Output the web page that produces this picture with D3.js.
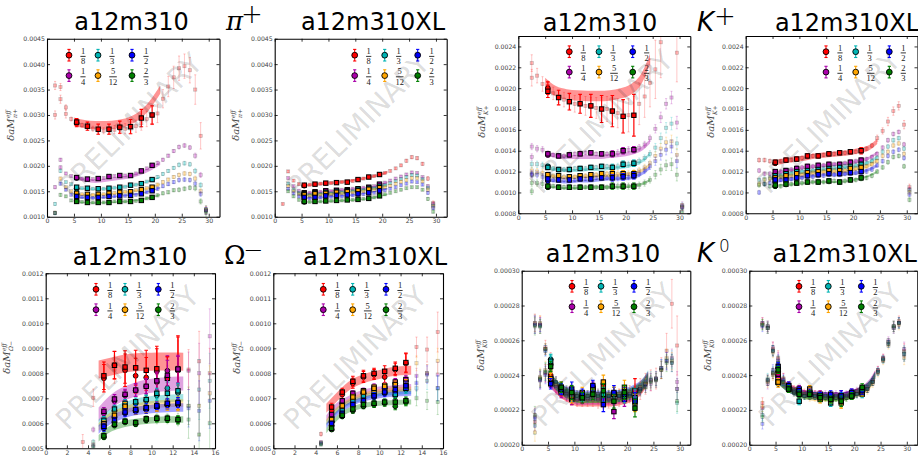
<!DOCTYPE html>
<html>
<head>
<meta charset="utf-8">
<script src="https://d3js.org/d3.v7.min.js"></script>
<style>
body { margin: 0; background: #fff; }
text { font-family: "DejaVu Sans", sans-serif; }
.tick text { font-size: 6.2px; fill: #444; }
.tick line { stroke: #000; stroke-width: 0.8; }
.domain { stroke: #000; stroke-width: 1.1; }
</style>
</head>
<body>
<div id="chart"></div>
<script>
// series order in every row list: 1/8, 1/4, 1/3, 5/12, 1/2, 2/3
var fractions = [["1", "8"], ["1", "4"], ["1", "3"], ["5", "12"], ["1", "2"], ["2", "3"]];
var colors = ["#ff0000", "#aa00aa", "#00b4b4", "#ffa500", "#0000ff", "#007f00"];

var stepsPi = d3.range(5.5, 20, 2);
var stepsK = d3.range(5.5, 22, 2);
var stepsO = d3.range(5.5, 13, 1);

// pi+ a12m310 (units 1e-5)
var piA_fade = [
  [358,355,315,292,285,280,277,273,270,269,270,271,272,273,276,278,284,292,298,303,332,356,374,392,396,388,350,259,113],
  [158,212,185,180,177,175,173,174,175,176,178,180,181,181,182,185,190,195,201,206,212,220,229,237,240,236,220,182,112],
  [125,190,168,164,158,156,155,155,155,155,156,157,158,159,161,163,165,169,173,178,184,190,196,202,205,203,190,162,115],
  [108,175,158,150,146,144,143,143,143,144,146,147,148,149,150,152,154,156,158,163,168,173,178,182,185,184,175,150,114],
  [107,165,153,143,140,139,137,137,138,139,140,140,140,141,142,143,145,148,151,155,160,164,168,172,173,172,165,145,112],
  [107,143,140,132,130,129,128,128,128,128,129,130,130,130,130,131,133,136,139,142,146,148,152,153,155,157,156,130,108]
];
var piA_fadeErr = [
  [8,7,5,4,4,4,4,5,5,6,7,8,9,10,11,12,14,15,17,18,18,20,22,24,24,25,29,26,8],
  [3,3,2,2,2,2,2,2,2,2,2,2,2,2,2,2,2,2,3,3,3,3,3,4,4,4,5,5,7]
];
var piA_fadeB = [[300,331,302],[null,197,null],[null,null,null],[null,null,null],[null,null,null],[null,null,null]];
var piA_solid = [
  [286,278,272,272,276,277,294,300],
  [177,174,175,179,181,181,190,201],
  [158,156,155,156,158,162,165,173],
  [146,144,144,146,148,149,153,158],
  [140,138,138,140,141,142,145,151],
  [130,128,128,128,130,130,132,138]
];
var piA_solidErr = [[7,8,10,10,12,14,17,18],[3,3,3,3,3,3,3,3]];
var piA_circ = [[284],[176],[155],[145],[139],[131]];
var piA_band = [
  [287,282,280,280,282,287,298,319,350],
  [178,172,170,172,175,178,184,193,205],
  [157,155,154,155,157,160,164,170,178],
  [145,143,143,144,146,149,152,157,164],
  [139,137,137,138,140,142,145,150,157],
  [129,128,127,128,129,130,133,137,143]
];

// pi+ a12m310XL
var piX_fade = [
  [125,189,171,164,162,163,164,165,166,166,167,168,168,170,173,175,178,180,183,186,190,195,201,210,217,215,204,175,127],
  [null,176,160,151,148,147,148,149,150,150,152,153,154,155,156,157,158,160,163,167,171,175,179,183,187,186,178,160,125],
  [null,165,153,147,144,143,144,145,146,146,147,148,149,151,152,153,154,156,159,162,166,170,174,178,182,181,174,157,122],
  [null,160,150,144,142,141,142,143,144,144,145,146,147,148,149,150,151,153,155,158,161,165,169,172,176,176,170,153,120],
  [null,155,146,140,138,136,137,138,139,139,140,140,141,142,142,144,145,147,149,152,155,158,162,165,169,168,163,147,117],
  [null,150,140,133,130,129,129,130,130,131,132,132,133,133,134,135,136,138,141,144,147,150,153,156,158,158,153,135,110]
];
var piX_fadeErr = [
  [2,2,2,2,2,2,2,2,2,2,2,2,2,2,2,2,2,2,2,2,2,2,2,3,3,3,3,4,4],
  [2,2,2,2,2,2,2,2,2,2,2,2,2,2,2,2,2,2,2,2,2,2,2,2,2,2,2,3,3]
];
var piX_solid = [
  [162,164,166,167,168,173,178,183],
  [147,149,151,152,153,155,158,164],
  [145,147,148,150,151,154,156,160],
  [143,145,146,148,149,151,154,157],
  [138,138,141,142,143,145,147,151],
  [130,130,131,132,133,134,136,141]
];
var piX_solidErr = [[3,3,3,3,3,3,3,3],[2,2,2,3,3,3,3,3]];
var piX_circ = [[161],[146],[144],[142],[137],[129]];
var piX_band = [
  [161,163,165,167,169,172,176,181,188],
  [146,147,149,151,153,155,157,161,168],
  [143,144,146,147,149,151,154,158,164],
  [141,142,144,145,147,149,152,155,161],
  [136,137,138,140,141,143,146,150,155],
  [129,129,130,131,132,133,135,139,144]
];

// K+ a12m310
var kA_fade = [
  [224,212,204,201,195,192,189,187,185,185,183,182,181,180,180,179,176,173,174,174,185,192,205,218,244,null,null,234,86],
  [144,142,141,138,136,135,135,136,137,138,138,138,137,137,137,137,138,140,141,141,143,146,152,161,172,185,191,167,88],
  [127,127,126,124,123,122,122,122,123,123,123,124,124,125,125,124,125,127,127,128,130,133,137,143,152,162,166,147,87],
  [121,120,119,117,116,115,115,115,115,116,116,117,117,118,118,118,118,118,118,119,121,124,128,135,142,148,149,136,86],
  [118,117,115,113,112,112,112,112,112,113,113,113,114,114,114,114,114,115,115,116,118,121,125,130,136,141,144,130,85],
  [109,109,108,106,106,105,105,105,105,105,105,105,105,105,105,106,106,106,106,106,107,109,112,117,122,126,127,117,81]
];
var kA_fadeErr = [
  [8,7,7,6,6,6,7,7,8,8,9,9,10,11,12,13,14,15,16,18,20,20,23,28,34,36,38,28,3],
  [3,3,3,2,2,2,2,2,2,2,2,2,2,2,2,3,3,3,3,3,3,3,3,4,5,5,6,6,3]
];
var kA_fadeB = [[210],[134],[null],[117],[117],[101]];
var kA_solid = [
  [197,191,187,185,183,180,178,173,174],
  [137,135,136,137,138,137,137,140,141],
  [124,122,122,123,124,125,124,127,128],
  [117,116,115,116,117,118,118,118,118],
  [113,112,112,113,113,114,114,115,116],
  [106,105,105,105,105,105,106,106,106]
];
var kA_solidErr = [[6,7,8,9,11,13,15,16,20],[2,2,2,2,2,2,3,3,3]];
var kA_circ = [[200],[136],[125],[115],[111],[105]];
var kA_band = [
  [205,197,194,193,192.5,192.5,193,195,199,210,228],
  [138,135,134,134,134,134,135,136,138,142,149],
  [124,122,121,121,122,122,123,124,126,130,137],
  [117,115,114,115,115,116,116,117,118,121,127],
  [112,111,110,111,111,112,113,113,114,118,124],
  [106,105,104,104,105,105,105,105,106,108,112]
];

// K+ a12m310XL
var kX_fade = [
  [131,131,130,129,130,131,131,132,133,134,135,135,136,137,137,138,138,139,139,140,142,145,152,159,168,178,183,165,105],
  [121,118,118,119,120,121,122,123,124,124,125,126,126,127,127,127,128,129,130,131,132,134,137,143,150,156,158,146,103],
  [112,113,114,115,116,117,118,119,120,121,121,122,123,123,124,124,125,125,126,127,128,130,133,139,144,150,152,142,102],
  [108,112,113,114,115,115,116,117,117,118,119,119,120,120,121,121,121,122,123,124,125,127,130,135,139,145,147,137,100],
  [100,108,109,111,112,112,113,114,114,115,115,116,116,117,117,117,118,118,119,119,120,122,126,130,135,139,141,133,98],
  [107,108,106,106,106,107,108,109,109,110,110,110,110,110,111,110,111,112,112,113,114,116,120,124,129,134,135,125,93]
];
var kX_fadeErr = [
  [2,2,2,2,2,2,2,2,2,2,2,2,2,2,2,2,2,2,2,2,2,2,3,3,4,4,4,4,3],
  [2,2,2,2,2,2,2,2,2,2,2,2,2,2,2,2,2,2,2,2,2,2,2,2,2,2,2,2,2]
];
var kX_solid = [
  [129,131,132,135,135,137,138,139,140],
  [120,121,123,125,126,127,127,129,131],
  [116,118,120,121,122,123,124,125,127],
  [114,116,118,119,120,121,121,123,124],
  [112,112,114,116,117,118,118,119,120],
  [107,108,109,110,110,111,110,112,114]
];
var kX_solidErr = [[2,2,2,2,2,2,2,2,3],[2,2,2,2,2,2,2,2,2]];
var kX_circ = [[128],[118],[115],[113],[110],[106]];
var kX_band = [
  [128,130,132,133,135,136,137,138,140,143,149],
  [118,120,122,124,125,126,127,128,130,133,138],
  [115,117,119,120,121,122,123,124,126,129,134],
  [113,115,116,118,119,120,120,121,123,126,131],
  [110,112,113,115,116,117,117,118,119,122,126],
  [106,107,108,109,110,110,110,111,113,116,120]
];

// Omega- a12m310 (units 1e-6)
var oA_fade = [
  [525,702,785,815,815,790,785,800,790,810,815,848,800],
  [null,575,640,690,710,730,745,770,810,815,810,800,948],
  [null,525,610,650,675,685,695,715,725,725,670,735,770],
  [null,515,590,625,660,650,660,668,675,680,670,670,720],
  [null,510,580,610,640,650,660,668,678,680,660,650,690],
  [null,505,548,592,605,600,615,618,618,615,615,555,600]
];
var oA_fadeErr = [
  [30,35,60,55,65,70,80,90,80,120,80,120,100],
  [5,10,15,15,15,15,15,20,20,25,75,120,110]
];
var oA_solid = [
  [790,832,825,822,812,818,780,815],
  [648,697,716,733,748,770,792,817],
  [612,657,680,686,695,720,720,730],
  [598,632,668,652,660,668,678,680],
  [588,612,645,655,663,670,680,683],
  [550,596,608,603,618,620,620,615]
];
var oA_solidErr = [
  [55,55,65,70,80,90,85,130],
  [15,18,20,25,30,35,60,55],
  [15,15,15,15,18,20,25,30],
  [12,12,15,15,15,18,20,25],
  [12,12,12,15,15,15,18,20],
  [10,10,10,10,10,12,12,15]
];
var oA_circ = [
  [780,833,812,790,783,808,782,820],
  [640,690,712,732,748,765,810,812],
  [605,650,672,680,692,712,740,722],
  [590,625,660,650,655,665,672,675],
  [580,605,640,650,655,665,675,675],
  [545,592,605,597,612,617,615,612]
];
var oA_band = [
  [815,825,835,842,845,846,847,847,846],
  [635,680,710,728,742,750,755,758,759],
  [600,640,662,677,688,694,698,700,702],
  [585,625,645,660,668,674,678,680,681],
  [575,610,630,645,652,657,660,662,663],
  [540,575,592,602,608,612,614,615,615]
];

// Omega- a12m310XL
var oX_fade = [
  [null,557,660,720,765,790,800,800,815,840,905,895,965],
  [null,525,630,685,715,730,745,750,765,775,790,800,795],
  [null,522,610,645,695,710,720,730,715,740,740,770,740],
  [null,520,610,665,700,725,735,745,750,760,840,800,850],
  [null,518,595,635,670,690,705,720,730,745,760,795,740],
  [null,515,578,628,655,672,678,683,680,688,700,690,685]
];
var oX_fadeErr = [
  [0,8,15,15,18,18,18,20,22,25,40,50,80],
  [0,5,10,12,12,12,14,15,15,18,30,35,50]
];
var oX_solid = [
  [665,725,768,790,800,808,820,843],
  [635,690,720,730,745,750,765,775],
  [612,650,690,710,720,730,715,740],
  [615,670,705,725,740,748,755,760],
  [600,640,675,690,710,725,735,750],
  [580,632,657,675,680,685,685,690]
];
var oX_solidErr = [[15,15,20,22,20,22,25,38],[8,8,10,10,12,12,14,15]];
var oX_circ = [
  [650,715,760,785,795,785,815,840],
  [625,680,715,725,740,745,760,770],
  [605,640,710,720,715,725,712,735],
  [605,665,700,720,735,740,750,755],
  [590,630,670,685,705,720,730,745],
  [575,628,650,668,675,680,668,685]
];
var oX_band = [
  [660,705,745,770,785,795,805,810,812],
  [620,670,695,715,728,735,738,742,745],
  [600,650,680,695,710,718,722,725,727],
  [605,655,685,705,718,726,732,735,737],
  [590,640,670,690,702,710,715,718,720],
  [570,620,650,665,675,680,682,684,685]
];

// K0 a12m310 (units 1e-6)
var k0A_fade = [
  [269,269,256,248,234,231,229,227,226,226,226,226,226,226,226,226,227,228,229,230,232,235,237,238,244,254,281,257],
  [270,269,255,246,233,230,228,227,226,226,227,227,227,227,227,227,227,227,228,229,231,233,235,237,243,248,250,236],
  [269,268,254,249,235,232,229,228,227,227,227,228,228,228,228,228,228,228,229,230,232,235,238,238,244,249,249,224],
  [270,270,255,248,235,232,230,228,228,228,228,228,229,229,229,229,229,229,230,231,233,235,237,238,243,250,248,232],
  [269,269,254,247,236,232,230,229,228,228,228,229,229,229,228,228,228,228,229,230,232,234,237,238,244,248,247,232],
  [268,268,255,246,236,233,231,229,228,228,228,228,228,228,228,228,228,228,228,229,231,233,236,237,243,247,247,225]
];
var k0A_fadeErr = [
  [5,5,4,5,5,4,4,4,4,4,4,4,5,5,5,5,5,5,5,5,6,6,6,6,6,10,14,17],
  [5,4,3,3,3,3,3,3,3,3,3,3,3,3,3,3,3,3,3,3,3,3,4,4,5,5,5,6]
];
var k0A_fadeB = [[213,238,241],[216,237,241],[211,238,242],[207,239,243],[215,237,240],[217,238,242]];
var k0A_solid = [
  [237,231,226,227,231,234,229,229,231],
  [236,230,227,227,233,226,219,226,226],
  [248,232,229,228,232,229,229,228,227],
  [238,233,228,230,232,236,229,233,224],
  [235,232,232,229,234,223,230,229,225],
  [245,233,230,227,229,231,225,230,221]
];
var k0A_solidErr = [[3,3,3,3,3,3,4,5,7],[3,3,4,3,3,4,4,4,5]];
var k0A_circ = [[240],[238],[249],[239],[236],[246]];
var k0A_band = [
  [238,231,227,225,225,225,225,226,228,233,238],
  [237,231,228,226,226,226,226,227,229,234,239],
  [240,233,229,227,227,227,227,228,230,235,240],
  [240,233,229,227,227,227,227,228,230,235,239],
  [240,233,230,228,228,228,228,229,231,235,239],
  [240,233,229,227,227,227,227,228,230,234,238]
];

// K0 a12m310XL
var k0X_fade = [
  [270,268,255,250,238,234,232,231,230,229,229,229,228,228,228,228,228,229,230,231,232,236,243,250,259,268,271,254],
  [270,268,256,249,238,233,231,230,229,229,229,229,229,229,229,229,229,230,231,232,233,237,243,250,260,268,270,255],
  [269,268,254,247,237,233,231,229,228,228,228,228,228,227,227,227,227,228,229,230,232,236,242,249,259,268,270,253],
  [269,267,253,246,236,232,230,228,228,227,227,227,227,227,227,226,227,228,229,230,231,235,241,248,257,267,269,250],
  [268,267,254,248,237,232,230,229,228,228,228,228,228,228,228,228,228,228,229,230,232,236,242,249,258,267,270,252],
  [269,267,254,247,236,232,230,229,228,228,228,228,227,227,227,227,227,228,229,230,232,236,242,249,258,268,270,252]
];
var k0X_fadeErr = [
  [3,3,4,4,3,2,2,2,2,2,2,2,2,2,2,2,2,2,2,2,2,2,2,2,2,3,3,4],
  [3,3,3,4,3,2,2,2,2,2,2,2,2,2,2,2,2,2,2,2,2,2,2,2,2,3,3,4]
];
var k0X_fadeB = [[224,237,241],[221,235,241],[217,238,242],[222,236,240],[212,237,243],[216,237,241]];
var k0X_solid = [
  [241,233,231,229,228,227,228,229,230],
  [238,234,232,230,229,228,228,230,232],
  [236,232,225,229,228,224,227,228,229],
  [236,232,230,232,226,226,224,228,230],
  [245,234,231,230,228,229,228,230,231],
  [243,232,229,229,227,226,225,228,233]
];
var k0X_solidErr = [[2,2,2,2,2,2,2,2,2],[2,2,2,2,2,2,3,2,2]];
var k0X_circ = [[240],[239],[236],[235],[244],[242]];
var k0X_band = [
  [240,234,231,229,228,228,228,229,231,235,241],
  [240,234,231,229,229,228,228,229,231,236,241],
  [238,233,230,228,228,227,227,228,230,235,240],
  [238,233,230,228,227,227,227,228,230,234,239],
  [239,233,230,229,228,228,228,229,231,235,240],
  [239,233,230,228,228,227,227,228,231,235,240]
];

var ticks30 = [0, 5, 10, 15, 20, 25, 30];
var ticks16 = [0, 2, 4, 6, 8, 10, 12, 14, 16];
var piTicks = [100, 150, 200, 250, 300, 350, 400, 450];
var kTicks = [80, 100, 120, 140, 160, 180, 200, 220, 240];
var oTicks = [500, 600, 700, 800, 900, 1000, 1100, 1200];
var k0Ticks = [200, 220, 240, 260, 280, 300];
var bandT9 = [5, 7, 9, 11, 13, 15, 17, 19, 21];
var bandT11 = [5, 7, 9, 11, 13, 15, 17, 19, 21, 23, 24.5];
var bandT11b = [5, 7, 9, 11, 13, 15, 17, 19, 21, 23, 24];
var bandTO = [5, 6, 7, 8, 9, 10, 11, 12, 13];

var panels = [
  { title: "a12m310", tx: 131.5, ty: 30, box: [47, 219.5, 38.7, 216.7], sub: "π+", labelDx: -33, xMax: 32, xTicks: ticks30, yDom: [100, 450], yTicks: piTicks, unit: 1e-5, dec: 4,
    fade: piA_fade, fadeT0: 1.5, fadeErr: piA_fadeErr, fadeB: piA_fadeB, fadeBT: [1.5, 2.5, 3.5], solid: piA_solid, solidT: stepsPi, solidErr: piA_solidErr, circ: piA_circ, circT: [5.5], band: piA_band, bandT: bandT9, half: [8, 3.5, 1.5, 1.5, 1.5, 1.5], legendX: [22, 51, 85], legendY: 16.5 },
  { title: "a12m310XL", tx: 373, ty: 30, box: [274.7, 446.7, 38.7, 216.7], sub: "π+", labelDx: -36, xMax: 32, xTicks: ticks30, yDom: [100, 450], yTicks: piTicks, unit: 1e-5, dec: 4,
    fade: piX_fade, fadeT0: 1.5, fadeErr: piX_fadeErr, solid: piX_solid, solidT: stepsPi, solidErr: piX_solidErr, circ: piX_circ, circT: [5.5], band: piX_band, bandT: bandT9, half: [2.5, 1.5, 1.5, 1.5, 1.5, 1.5], legendX: [80, 110, 143], legendY: 16.5 },
  { title: "a12m310", tx: 600, ty: 30.5, box: [518.3, 690.3, 36, 213.3], sub: "K+", labelDx: -33, xMax: 32, xTicks: ticks30, yDom: [80, 250], yTicks: kTicks, unit: 1e-5, dec: 4,
    fade: kA_fade, fadeT0: 2.5, fadeErr: kA_fadeErr, fadeB: kA_fadeB, fadeBT: [2.5], solid: kA_solid, solidT: stepsK, solidErr: kA_solidErr, circ: kA_circ, circT: [5.5], band: kA_band, bandT: bandT11, half: [5, 2, 1.5, 1.5, 1.5, 1.2], legendX: [51, 80.7, 114.4], legendY: 15.7 },
  { title: "a12m310XL", tx: 847, ty: 30.5, box: [745.7, 917.5, 36, 213.3], sub: "K+", labelDx: -32, xMax: 32, xTicks: ticks30, yDom: [80, 250], yTicks: kTicks, unit: 1e-5, dec: 4,
    fade: kX_fade, fadeT0: 2.5, fadeErr: kX_fadeErr, solid: kX_solid, solidT: stepsK, solidErr: kX_solidErr, circ: kX_circ, circT: [5.5], band: kX_band, bandT: bandT11, half: [2.5, 1.5, 1.5, 1.5, 1.5, 1], legendX: [80.3, 110, 143.6], legendY: 15.7 },
  { title: "a12m310", tx: 130, ty: 264.7, box: [45.7, 215, 273.3, 448.3], sub: "Ω−", labelDx: -36, xMax: 16, xTicks: ticks16, yDom: [500, 1200], yTicks: oTicks, unit: 1e-6, dec: 4,
    fade: oA_fade, fadeT0: 3.5, fadeErr: oA_fadeErr, solid: oA_solid, solidT: stepsO, solidErr: oA_solidErr, circ: oA_circ, circT: stepsO, band: oA_band, bandT: bandTO, half: [36, 28, 15, 15, 17, 13], legendX: [50.3, 79.3, 112.6], legendY: 16 },
  { title: "a12m310XL", tx: 375, ty: 264.7, box: [273.3, 443, 273.3, 448.3], sub: "Ω−", labelDx: -33, xMax: 16, xTicks: ticks16, yDom: [500, 1200], yTicks: oTicks, unit: 1e-6, dec: 4,
    fade: oX_fade, fadeT0: 3.5, fadeErr: oX_fadeErr, solid: oX_solid, solidT: stepsO, solidErr: oX_solidErr, circ: oX_circ, circT: stepsO, band: oX_band, bandT: bandTO, half: [18, 12, 10, 10, 10, 10], legendX: [50, 79.4, 112.7], legendY: 16 },
  { title: "a12m310", tx: 603, ty: 262, box: [521.7, 690.3, 270.7, 444.7], sub: "K0", labelDx: -38, xMax: 32, xTicks: ticks30, yDom: [200, 300], yTicks: k0Ticks, unit: 1e-6, dec: 5,
    fade: k0A_fade, fadeT0: 2.5, fadeErr: k0A_fadeErr, fadeB: k0A_fadeB, fadeBT: [2.5, 3.5, 4.5], solid: k0A_solid, solidT: stepsK, solidErr: k0A_solidErr, circ: k0A_circ, circT: [5.5], band: k0A_band, bandT: bandT11b, half: [3, 3, 3, 3, 3, 3], legendX: [50.3, 79.3, 112.3], legendY: 15.6 },
  { title: "a12m310XL", tx: 844.7, ty: 262, box: [749.3, 917.3, 270.7, 444.7], sub: "K0", labelDx: -38, xMax: 32, xTicks: ticks30, yDom: [200, 300], yTicks: k0Ticks, unit: 1e-6, dec: 5,
    fade: k0X_fade, fadeT0: 2.5, fadeErr: k0X_fadeErr, fadeB: k0X_fadeB, fadeBT: [2.5, 3.5, 4.5], solid: k0X_solid, solidT: stepsK, solidErr: k0X_solidErr, circ: k0X_circ, circT: [5.5], band: k0X_band, bandT: bandT11b, half: [2, 2, 2, 2, 2, 2], legendX: [49.7, 79, 112], legendY: 15.6 }
];

// species labels between the pairs
var species = [
  { name: "π", sup: "+", x: 226, y: 30, supX: 241, supY: 23, supSize: 26, family: "DejaVu Serif", style: "italic" },
  { name: "K", sup: "+", x: 697, y: 30.5, supX: 714, supY: 25, supSize: 26, family: "DejaVu Sans", style: "italic" },
  { name: "Ω", sup: "−", x: 224, y: 264, supX: 243, supY: 258, supSize: 24, family: "DejaVu Serif", style: "normal" },
  { name: "K", sup: "0", x: 697, y: 262, supX: 719, supY: 252, supSize: 17, family: "DejaVu Sans", style: "italic" }
];

var svg = d3.select("#chart").append("svg")
  .attr("width", 918)
  .attr("height", 455)
  .style("display", "block");

species.forEach(function(s) {
  svg.append("text")
    .attr("x", s.x)
    .attr("y", s.y)
    .attr("font-size", 26)
    .attr("font-style", s.style)
    .style("font-family", s.family)
    .text(s.name);
  svg.append("text")
    .attr("x", s.supX)
    .attr("y", s.supY)
    .attr("font-size", s.supSize)
    .attr("font-weight", 300)
    .text(s.sup);
});

function errorBars(group, points, color, opacity, width, cap) {
  var lines = group.append("g")
    .attr("stroke", color)
    .attr("stroke-opacity", opacity)
    .attr("stroke-width", width);
  points.forEach(function(p) {
    lines.append("line").attr("x1", p.x).attr("x2", p.x).attr("y1", p.y0).attr("y2", p.y1);
    lines.append("line").attr("x1", p.x - cap).attr("x2", p.x + cap).attr("y1", p.y0).attr("y2", p.y0);
    lines.append("line").attr("x1", p.x - cap).attr("x2", p.x + cap).attr("y1", p.y1).attr("y2", p.y1);
  });
}

function drawPanel(p, idx) {
  var width = p.box[1] - p.box[0];
  var height = p.box[3] - p.box[2];
  var g = svg.append("g").attr("transform", `translate(${p.box[0]}, ${p.box[2]})`);
  var x = d3.scaleLinear().domain([0, p.xMax]).range([0, width]);
  var y = d3.scaleLinear().domain(p.yDom).range([height, 0]);

  svg.append("clipPath").attr("id", "clip" + idx)
    .append("rect").attr("width", width).attr("height", height);
  var plot = g.append("g").attr("clip-path", `url(#clip${idx})`);

  // fit bands
  var area = d3.area()
    .x(d => x(d.t))
    .y0(d => y(d.v - d.h))
    .y1(d => y(d.v + d.h))
    .curve(d3.curveMonotoneX);
  p.band.forEach(function(row, i) {
    var pts = row.map((v, j) => ({ t: p.bandT[j], v: v, h: p.half[i] }));
    plot.append("path").attr("d", area(pts)).attr("fill", colors[i]).attr("fill-opacity", i === 0 ? 0.42 : 0.36);
  });

  function errRow(rows, i) { return rows[Math.min(i, rows.length - 1)]; }

  // faded points, the full range of t
  function faded(row, times, errs, i) {
    var pts = [];
    row.forEach(function(v, j) {
      if (v === null) return;
      pts.push({ x: x(times(j)), y: y(v), y0: y(v - errs[j]), y1: y(v + errs[j]) });
    });
    errorBars(plot, pts, colors[i], 0.22, 1, 1.1);
    plot.append("g").selectAll("rect")
      .data(pts)
      .enter()
      .append("rect")
      .attr("x", d => d.x - 1.6)
      .attr("y", d => d.y - 1.6)
      .attr("width", 3.2)
      .attr("height", 3.2)
      .attr("fill", colors[i])
      .attr("fill-opacity", 0.25)
      .attr("stroke", "#000")
      .attr("stroke-opacity", 0.26)
      .attr("stroke-width", 0.6);
  }
  p.fade.forEach(function(row, i) {
    faded(row, j => p.fadeT0 + j, errRow(p.fadeErr, i), i);
    if (p.fadeB) faded(p.fadeB[i], j => p.fadeBT[j], p.fadeBT.map(() => errRow(p.fadeErr, i)[0]), i);
  });

  // solid circles then squares
  p.circ.forEach(function(row, i) {
    var errs = errRow(p.solidErr, i);
    var pts = row.map((v, j) => ({ x: x(p.circT[j]), y: y(v), y0: y(v - errs[j]), y1: y(v + errs[j]) }));
    errorBars(plot, pts, colors[i], 1, 1.1, 1.8);
    plot.append("g").selectAll("circle")
      .data(pts)
      .enter()
      .append("circle")
      .attr("cx", d => d.x)
      .attr("cy", d => d.y)
      .attr("r", 2.4)
      .attr("fill", colors[i])
      .attr("stroke", "#000")
      .attr("stroke-width", 0.9);
  });
  p.solid.forEach(function(row, i) {
    var errs = errRow(p.solidErr, i);
    var pts = row.map((v, j) => ({ x: x(p.solidT[j]), y: y(v), y0: y(v - errs[j]), y1: y(v + errs[j]) }));
    errorBars(plot, pts, colors[i], 1, 1.1, 1.8);
    plot.append("g").selectAll("rect")
      .data(pts)
      .enter()
      .append("rect")
      .attr("x", d => d.x - 2.2)
      .attr("y", d => d.y - 2.2)
      .attr("width", 4.4)
      .attr("height", 4.4)
      .attr("fill", colors[i])
      .attr("stroke", "#000")
      .attr("stroke-width", 1);
  });

  // axes, ticks point inward on all four sides
  var fmt = d => (d * p.unit).toFixed(p.dec);
  g.append("g")
    .attr("transform", `translate(0, ${height})`)
    .call(d3.axisBottom(x).tickValues(p.xTicks).tickSize(-3).tickSizeOuter(0).tickPadding(2).tickFormat(d3.format("d")));
  g.append("g")
    .call(d3.axisLeft(y).tickValues(p.yTicks).tickSize(-3).tickSizeOuter(0).tickPadding(2).tickFormat(fmt));
  g.append("g")
    .call(d3.axisTop(x).tickValues(p.xTicks).tickSize(-3).tickSizeOuter(0).tickFormat(""));
  g.append("g")
    .attr("transform", `translate(${width}, 0)`)
    .call(d3.axisRight(y).tickValues(p.yTicks).tickSize(-3).tickSizeOuter(0).tickFormat(""));

  // title
  svg.append("text")
    .attr("x", p.tx)
    .attr("y", p.ty)
    .attr("text-anchor", "middle")
    .attr("font-size", 24)
    .text(p.title);

  // legend: two rows, three columns
  fractions.forEach(function(f, i) {
    var lx = p.legendX[Math.floor(i / 2)];
    var ly = p.legendY + (i % 2) * 20.4;
    var item = g.append("g").attr("transform", `translate(${lx}, ${ly})`);
    errorBars(item, [{ x: 0, y0: -5.8, y1: 5.8 }], colors[i], 1, 1.1, 1.6);
    item.append("circle").attr("r", 2.9).attr("fill", colors[i]).attr("stroke", "#000").attr("stroke-width", 0.9);
    var fx = f[1] === "12" ? 15 : 14;
    item.append("text").attr("x", fx).attr("y", -1.2).attr("text-anchor", "middle").attr("font-size", 8.5)
      .style("font-family", "Liberation Serif").attr("fill", "#222").text(f[0]);
    item.append("text").attr("x", fx).attr("y", 9).attr("text-anchor", "middle").attr("font-size", 8.5)
      .style("font-family", "Liberation Serif").attr("fill", "#222").text(f[1]);
    var half = f[1] === "12" ? 3.8 : 2.6;
    item.append("line").attr("x1", fx - half).attr("x2", fx + half).attr("y1", 1.2).attr("y2", 1.2)
      .attr("stroke", "#000").attr("stroke-width", 0.8);
  });

  // y label
  var label = g.append("g")
    .attr("transform", `translate(${p.labelDx}, ${height / 2}) rotate(-90)`);
  var main = label.append("text")
    .attr("x", -13)
    .attr("font-size", 10)
    .attr("font-style", "italic")
    .style("font-family", "DejaVu Serif")
    .attr("fill", "#444")
    .text("δaM");
  var mainEnd = -13 + main.node().getComputedTextLength();
  label.append("text").attr("x", mainEnd + 0.5).attr("y", -4).attr("font-size", 6).attr("font-style", "italic")
    .style("font-family", "DejaVu Serif").attr("fill", "#444").text("eff");
  label.append("text").attr("x", mainEnd + 0.5).attr("y", 3).attr("font-size", 6).attr("font-style", "italic")
    .style("font-family", "DejaVu Serif").attr("fill", "#444").text(p.sub);

  // watermark over everything
  g.append("text")
    .attr("transform", `translate(${width / 2 - 3}, ${height / 2 - 3}) rotate(-45)`)
    .attr("text-anchor", "middle")
    .attr("dy", "0.35em")
    .attr("font-size", 28.5)
    .attr("fill", "#000")
    .attr("fill-opacity", 0.15)
    .text("PRELIMINARY");
}

panels.forEach(drawPanel);
</script>
</body>
</html>
